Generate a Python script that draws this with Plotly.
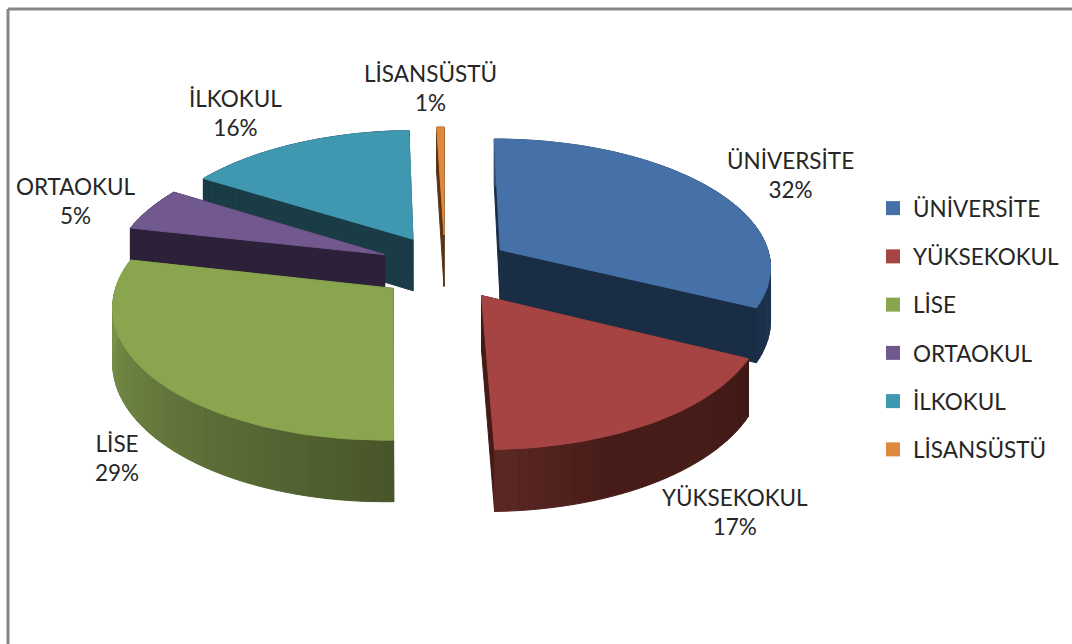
import math
import plotly.graph_objects as go

categories = ["ÜNİVERSİTE", "YÜKSEKOKUL", "LİSE", "ORTAOKUL", "İLKOKUL", "LİSANSÜSTÜ"]
values = [32.3, 17.3, 28.9, 5.4, 15.6, 0.5]
percent_labels = ["32%", "17%", "29%", "5%", "16%", "1%"]

top_colors = ["#4571A8", "#A54442", "#89A54E", "#71588F", "#4097B0", "#DE8840"]
face_colors = ["#192D45", "#451B18", "#4A5628", "#2C2138", "#1A3C47", "#5A3312"]
# rim shading: colour stops along each slice's arc
rim_colors = [["#2F5078", "#1B2F49"], ["#3F1A17", "#471C18", "#471C18", "#5C2824"],
              ["#48552A", "#809C4E"], ["#2C2138", "#2C2138"], ["#1A3C47", "#1A3C47"],
              ["#5A3312", "#5A3312"]]
label_centers = [(790, 175), (735, 512), (117, 458), (76, 201), (235, 113), (430, 88)]
draw_order = [4, 5, 3, 0, 2, 1]

# projection constants (pixels)
CX, CY, A, B, K, D = 445, 267, 272, 128, 0.12, 53
EX, EY, EV = 66, 33, 0.258
FONT = "Lato"
TEXT = "#262626"


def project(theta, mid, r, z):
    u, v = r * math.sin(theta), -r * math.cos(theta)
    du, dv = math.sin(mid), -math.cos(mid)
    w = 1 - K * (v + EV * dv)
    return CX + (A * u + EX * du) / w, CY + (B * v + EY * dv + D * z) / w


def mix(stops, t):
    pos = t * (len(stops) - 1)
    j = min(int(pos), len(stops) - 2)
    f = pos - j
    a = [int(stops[j][i:i + 2], 16) for i in (1, 3, 5)]
    b = [int(stops[j + 1][i:i + 2], 16) for i in (1, 3, 5)]
    return "#%02x%02x%02x" % tuple(round(p + (q - p) * f) for p, q in zip(a, b))


def poly(pts, color):
    xs = [p[0] for p in pts] + [pts[0][0]]
    ys = [p[1] for p in pts] + [pts[0][1]]
    return go.Scatter(x=xs, y=ys, mode="lines", fill="toself", fillcolor=color,
                      line=dict(color=color, width=1), hoverinfo="skip", showlegend=False)


total = sum(values)
spans, acc = [], 0
for val in values:
    spans.append((acc / total * 2 * math.pi, (acc + val) / total * 2 * math.pi))
    acc += val

fig = go.Figure()
for i in draw_order:
    t0, t1 = spans[i]
    mid = (t0 + t1) / 2
    steps = max(2, int(math.degrees(t1 - t0) / 2))
    thetas = [t0 + (t1 - t0) * s / steps for s in range(steps + 1)]
    for th in (t0, t1):
        fig.add_trace(poly([project(th, mid, 0, 0), project(th, mid, 1, 0),
                            project(th, mid, 1, 1), project(th, mid, 0, 1)], face_colors[i]))
    for s in range(steps):
        col = mix(rim_colors[i], (s + 0.5) / steps)
        a, b = thetas[s], thetas[s + 1]
        fig.add_trace(poly([project(a, mid, 1, 0), project(b, mid, 1, 0),
                            project(b, mid, 1, 1), project(a, mid, 1, 1)], col))
    fig.add_trace(poly([project(t0, mid, 0, 0)] + [project(t, mid, 1, 0) for t in thetas],
                       top_colors[i]))

for i, name in enumerate(categories):
    fig.add_trace(go.Scatter(x=[None], y=[None], mode="markers", name=name, legendgroup=name,
                             marker=dict(symbol="square", size=14, color=top_colors[i])))

annotations = [dict(x=c[0], y=c[1], xref="x", yref="y", text=f"{n}<br>{p}", showarrow=False,
                    xanchor="center", yanchor="middle", font=dict(family=FONT, size=22.5, color=TEXT))
               for n, p, c in zip(categories, percent_labels, label_centers)]

fig.update_layout(
    width=1072, height=644, autosize=False,
    margin=dict(l=0, r=0, t=0, b=0),
    paper_bgcolor="white", plot_bgcolor="white",
    xaxis=dict(range=[0, 1072], visible=False, fixedrange=True),
    yaxis=dict(range=[644, 0], visible=False, fixedrange=True),
    annotations=annotations,
    legend=dict(x=873 / 1072, y=1 - 187 / 644, xanchor="left", yanchor="top",
                tracegroupgap=16, bgcolor="rgba(0,0,0,0)",
                font=dict(family=FONT, size=22.5, color=TEXT)),
    shapes=[dict(type="line", xref="x", yref="y", x0=8, x1=1072, y0=9, y1=9,
                 line=dict(color="#868686", width=3)),
            dict(type="line", xref="x", yref="y", x0=8, x1=8, y0=9, y1=644,
                 line=dict(color="#868686", width=3))],
)
fig.write_html("out.html", config=dict(displayModeBar=False),
               post_script="document.body.style.margin='0';document.body.style.overflow='hidden';")
